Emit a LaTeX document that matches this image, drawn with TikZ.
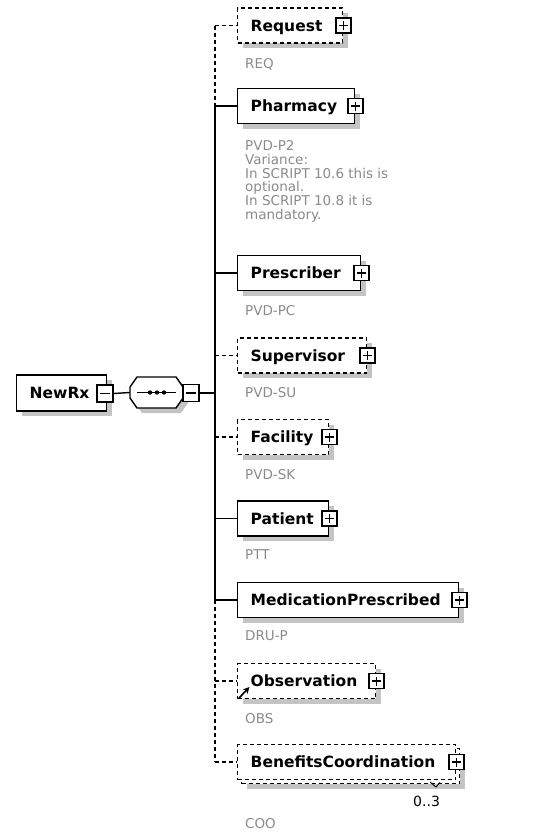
\documentclass[tikz,border=0pt]{standalone}
\usepackage{fontspec}
\setmainfont{DejaVu Sans}
\usetikzlibrary{arrows.meta}
\definecolor{shadowgray}{HTML}{C4C4C4}
\definecolor{labelgray}{HTML}{8A8A8A}
\begin{document}
\begin{tikzpicture}[x=1pt,y=-1pt,
  shadowed/.style={preaction={fill=shadowgray,draw=none,transform canvas={xshift=5pt,yshift=-5pt}}},
  elem/.style={draw=black, line width=1.4pt, fill=white, anchor=west,
    minimum height=35pt, inner xsep=13pt, inner ysep=0pt,
    text height=13pt, text depth=1.8pt,
    font=\fontsize{15.5}{18}\selectfont\bfseries, align=left},
  optl/.style={dash pattern=on 4pt off 3pt},
  pm/.style={draw=black, line width=1.2pt, fill=white, minimum width=15pt,
    minimum height=15pt, inner sep=0pt, text height=0pt, text depth=0pt},
  plusbox/.style={pm, path picture={
    \draw[line width=1.2pt] (path picture bounding box.west) ++(3pt,0) -- ++(9pt,0);
    \draw[line width=1.2pt] (path picture bounding box.south) ++(0,3pt) -- ++(0,9pt);}},
  minusbox/.style={pm, minimum width=16pt, minimum height=17pt, path picture={
    \draw[line width=1.2pt] (path picture bounding box.west) ++(3pt,0) -- ++(10pt,0);}},
  conn/.style={line width=1.4pt},
  conndash/.style={line width=1.4pt, dash pattern=on 4pt off 3pt},
  lbl/.style={anchor=base west, inner sep=0pt, text=labelgray,
    font=\fontsize{13.5}{13.7}\selectfont},
  lblm/.style={anchor=north west, inner sep=0pt, text=labelgray, align=left,
    font=\fontsize{13.5}{13.7}\selectfont},
]
\useasboundingbox (0,0) rectangle (554,839);

% root element
\node[elem, shadowed, text width=64pt, minimum height=36pt] (newrx) at (16,393) {NewRx};
\node[minusbox] (nrm) at (105,393.5) {};

% sequence compositor
\begin{scope}[shift={(5,5)}]
  \fill[shadowgray] (137,377) -- (176,377) -- (183,387) -- (183,398) -- (176,408)
    -- (137,408) -- (130,398) -- (130,387) -- cycle;
\end{scope}
\draw[line width=1.4pt, fill=white] (137,377) -- (176,377) -- (183,387) -- (183,398)
  -- (176,408) -- (137,408) -- (130,398) -- (130,387) -- cycle;
\node[inner sep=0pt, minimum width=53pt, minimum height=31pt] (seq) at (156.5,392.5) {};
\draw[line width=1.4pt] (137,392.5) -- (176,392.5);
\fill (150,392.5) circle (2.2pt) (157,392.5) circle (2.2pt) (164,392.5) circle (2.2pt);
\node[minusbox] (sqm) at (191,393) {};

\draw[conn] (nrm.east) -- (seq.west);
\coordinate (tSeq) at (215,393);
\draw[conn] (sqm.east) -- (tSeq);

% trunk coordinates
\coordinate (tReq) at (215,25.5);
\coordinate (tPha) at (215,106);
\coordinate (tPre) at (215,273);
\coordinate (tSup) at (215,355.5);
\coordinate (tFac) at (215,437);
\coordinate (tPat) at (215,518.5);
\coordinate (tMed) at (215,600);
\coordinate (tObs) at (215,681);
\coordinate (tBen) at (215,762);

\draw[conndash] (tReq) -- (tPha);
\draw[conn] (tPha) -- (tMed);
\draw[conndash] (tMed) -- (tBen);

% child elements
\node[elem, shadowed, optl, text width=79pt] (req) at (237,25.5) {Request};
\node[plusbox] at (req.east) {};
\node[lbl] at (245,68) {REQ};

\node[elem, shadowed, text width=91pt] (pha) at (237,106) {Pharmacy};
\node[plusbox] at (pha.east) {};
\node[lblm] at (245,140.5) {PVD-P2\\Variance:\\In SCRIPT 10.6 this is\\optional.\\In SCRIPT 10.8 it is\\mandatory.};

\node[elem, shadowed, text width=97pt] (pre) at (237,273) {Prescriber};
\node[plusbox] at (pre.east) {};
\node[lbl] at (245,315) {PVD-PC};

\node[elem, shadowed, optl, text width=103pt] (sup) at (237,355.5) {Supervisor};
\node[plusbox] at (sup.east) {};
\node[lbl] at (245,397) {PVD-SU};

\node[elem, shadowed, optl, text width=65pt] (fac) at (237,437) {Facility};
\node[plusbox] at (fac.east) {};
\node[lbl] at (245,479) {PVD-SK};

\node[elem, shadowed, text width=65pt] (pat) at (237,518.5) {Patient};
\node[plusbox] at (pat.east) {};
\node[lbl] at (245,559) {PTT};

\node[elem, shadowed, text width=195pt] (med) at (237,600) {MedicationPrescribed};
\node[plusbox] at (med.east) {};
\node[lbl] at (245,640) {DRU-P};

\node[elem, shadowed, optl, text width=112pt] (obs) at (237,681) {Observation};
\node[plusbox] at (obs.east) {};
\coordinate (oa1) at (239,698);
\coordinate (oa2) at (249.5,687);
\draw[line width=1.6pt, -{Stealth[length=6.5pt,width=6.5pt]}] (oa1) -- (oa2);
\node[lbl] at (245,723) {OBS};

\node[elem, shadowed, optl, text width=192pt] (benback) at (241,766) {\phantom{B}};
\node[elem, optl, text width=192pt] (ben) at (237,762) {BenefitsCoordination};
\node[plusbox] at (ben.east) {};
\draw[line width=0.9pt] (430,782) -- (436,787) -- (440,782.5);
\node[anchor=base west, inner sep=0pt, font=\fontsize{14}{16}\selectfont] at (413,806) {0..3};
\node[lbl] at (245,828) {COO};

% branches
\draw[conndash] (tReq) -- (req.west);
\draw[conn] (tPha) -- (pha.west);
\draw[conn] (tPre) -- (pre.west);
\draw[conndash] (tSup) -- (sup.west);
\draw[conndash] (tFac) -- (fac.west);
\draw[conn] (tPat) -- (pat.west);
\draw[conn] (tMed) -- (med.west);
\draw[conndash] (tObs) -- (obs.west);
\draw[conndash] (tBen) -- (ben.west);
\end{tikzpicture}
\end{document}
